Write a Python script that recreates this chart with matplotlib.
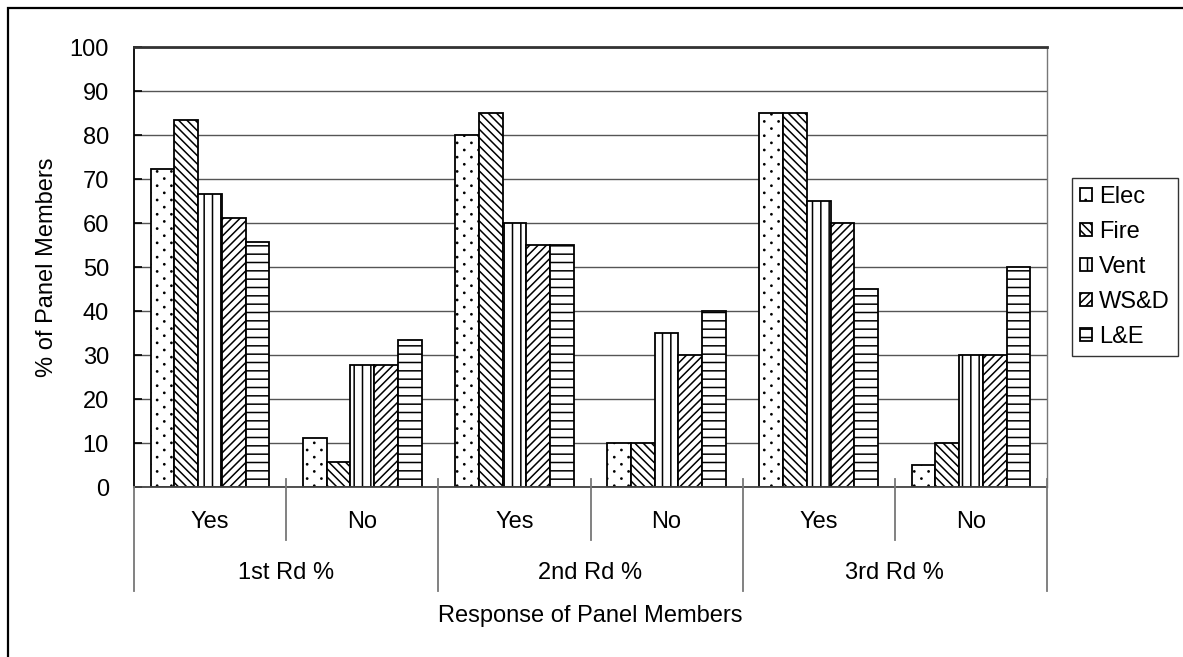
import matplotlib
matplotlib.use("Agg")
import matplotlib.pyplot as plt
import matplotlib.hatch as mhatch
from matplotlib.path import Path
from matplotlib.patches import Rectangle
import numpy as np

plt.rcParams['font.family'] = ['Liberation Sans', 'DejaVu Sans']
plt.rcParams['hatch.linewidth'] = 1.1


class SparseDots(mhatch.HatchPatternBase):
    """Staggered grid of tiny dots, wider apart across than down."""
    shape = Path.unit_circle()

    def __init__(self, hatch, density):
        pts = []
        if hatch.count('.') > 0:
            cols, rows = 7, 14
            for r in range(rows + 1):
                if r % 2 == 0:
                    xs = np.arange(cols + 1) / cols
                else:
                    xs = (np.arange(cols) + 0.5) / cols
                pts.extend((xx, r / rows) for xx in xs)
        self.pts = pts
        self.nv = len(self.shape.vertices)
        self.num_vertices = len(pts) * self.nv

    def set_vertices_and_codes(self, vertices, codes):
        sv = self.shape.vertices * 0.006
        for i, (px_, py_) in enumerate(self.pts):
            vertices[i * self.nv:(i + 1) * self.nv] = sv + [px_, py_]
            codes[i * self.nv:(i + 1) * self.nv] = self.shape.codes


mhatch._hatch_types = [SparseDots if t is mhatch.SmallFilledCircles else t
                       for t in mhatch._hatch_types]

# Data
rounds = ["1st Rd %", "2nd Rd %", "3rd Rd %"]
responses = ["Yes", "No"]
series = ["Elec", "Fire", "Vent", "WS&D", "L&E"]
elec = [72.2, 11.1, 80, 10, 85, 5]
fire = [83.3, 5.6, 85, 10, 85, 10]
vent = [66.7, 27.8, 60, 35, 65, 30]
wsd = [61.1, 27.8, 55, 30, 60, 30]
le = [55.6, 33.3, 55, 40, 45, 50]
values = [elec, fire, vent, wsd, le]
hatches = ['.', '\\\\\\\\', '||', '////', '--']
y_ticks = list(range(0, 101, 10))

W, H, DPI = 1183, 657, 100
fig = plt.figure(figsize=(W / DPI, H / DPI), dpi=DPI)
fig.patch.set_facecolor('white')

# chart border
fig.add_artist(Rectangle((8 / W, -0.1), 1.2, 1 - 8 / H + 0.1,
                         transform=fig.transFigure, fill=False,
                         edgecolor='black', linewidth=1.6))

ax = fig.add_axes([134 / W, 1 - 487 / H, (1047 - 134) / W, (487 - 47) / H])

n_cat = len(rounds) * len(responses)
x = np.arange(n_cat) + 0.5
bw = 0.156
offsets = (np.arange(len(series)) - (len(series) - 1) / 2) * bw

handles = []
for i, (name, vals, h) in enumerate(zip(series, values, hatches)):
    bars = ax.bar(x + offsets[i], vals, width=bw, facecolor='white',
                  edgecolor='black', linewidth=1.3, hatch=h, label=name,
                  zorder=3)
    handles.append(bars)

ax.set_xlim(0, n_cat)
ax.set_ylim(0, 100)
ax.set_yticks(y_ticks)
ax.set_yticklabels([str(t) for t in y_ticks], fontsize=17)
ax.tick_params(axis='y', direction='in', length=6, width=1.2, pad=18,
               colors='black')
ax.set_xticks([])
ax.yaxis.grid(True, color='#555555', linewidth=1.0, zorder=0)
ax.set_axisbelow(True)

for side in ['top', 'bottom']:
    ax.spines[side].set_visible(False)
ax.spines['left'].set_color('black')
ax.spines['left'].set_linewidth(1.3)
ax.spines['right'].set_color('#777777')
ax.spines['right'].set_linewidth(1.0)
ax.axhline(0, color='#444444', linewidth=1.3, zorder=4, clip_on=False)
ax.axhline(100, color='#333333', linewidth=2.0, zorder=4, clip_on=False)

# multi-level category axis
px = 1.0 / (487 - 47) * 100  # data units per pixel in y
for k in range(1, n_cat, 2):
    ax.plot([k, k], [8 * px, -53 * px], color='#777777', linewidth=1.3,
            clip_on=False, zorder=4)
for k in range(0, n_cat + 1, 2):
    top = 0 if k == 0 else 8 * px
    ax.plot([k, k], [top, -104 * px], color='#777777', linewidth=1.3,
            clip_on=False, zorder=4)

for j in range(n_cat):
    ax.text(j + 0.5, -35 * px, responses[j % 2], ha='center', va='center',
            fontsize=17)
for r, name in enumerate(rounds):
    ax.text(2 * r + 1, -86 * px, name, ha='center', va='center',
            fontsize=17)

fig.text((134 + 1047) / 2 / W, 1 - 616 / H, "Response of Panel Members",
         ha='center', va='center', fontsize=17)
fig.text(47 / W, 1 - 267 / H, "% of Panel Members", ha='center',
         va='center', rotation=90, fontsize=17)

leg = fig.legend(handles=handles, labels=series, loc='center left',
                 bbox_to_anchor=(1072 / W, 1 - 267 / H), fontsize=17,
                 frameon=True, fancybox=False, handlelength=0.5,
                 handleheight=0.5, handletextpad=0.3, labelspacing=0.55,
                 borderpad=0.35, borderaxespad=0)
leg.get_frame().set_edgecolor('black')
leg.get_frame().set_linewidth(1.0)

fig.savefig("out.png", dpi=DPI)
